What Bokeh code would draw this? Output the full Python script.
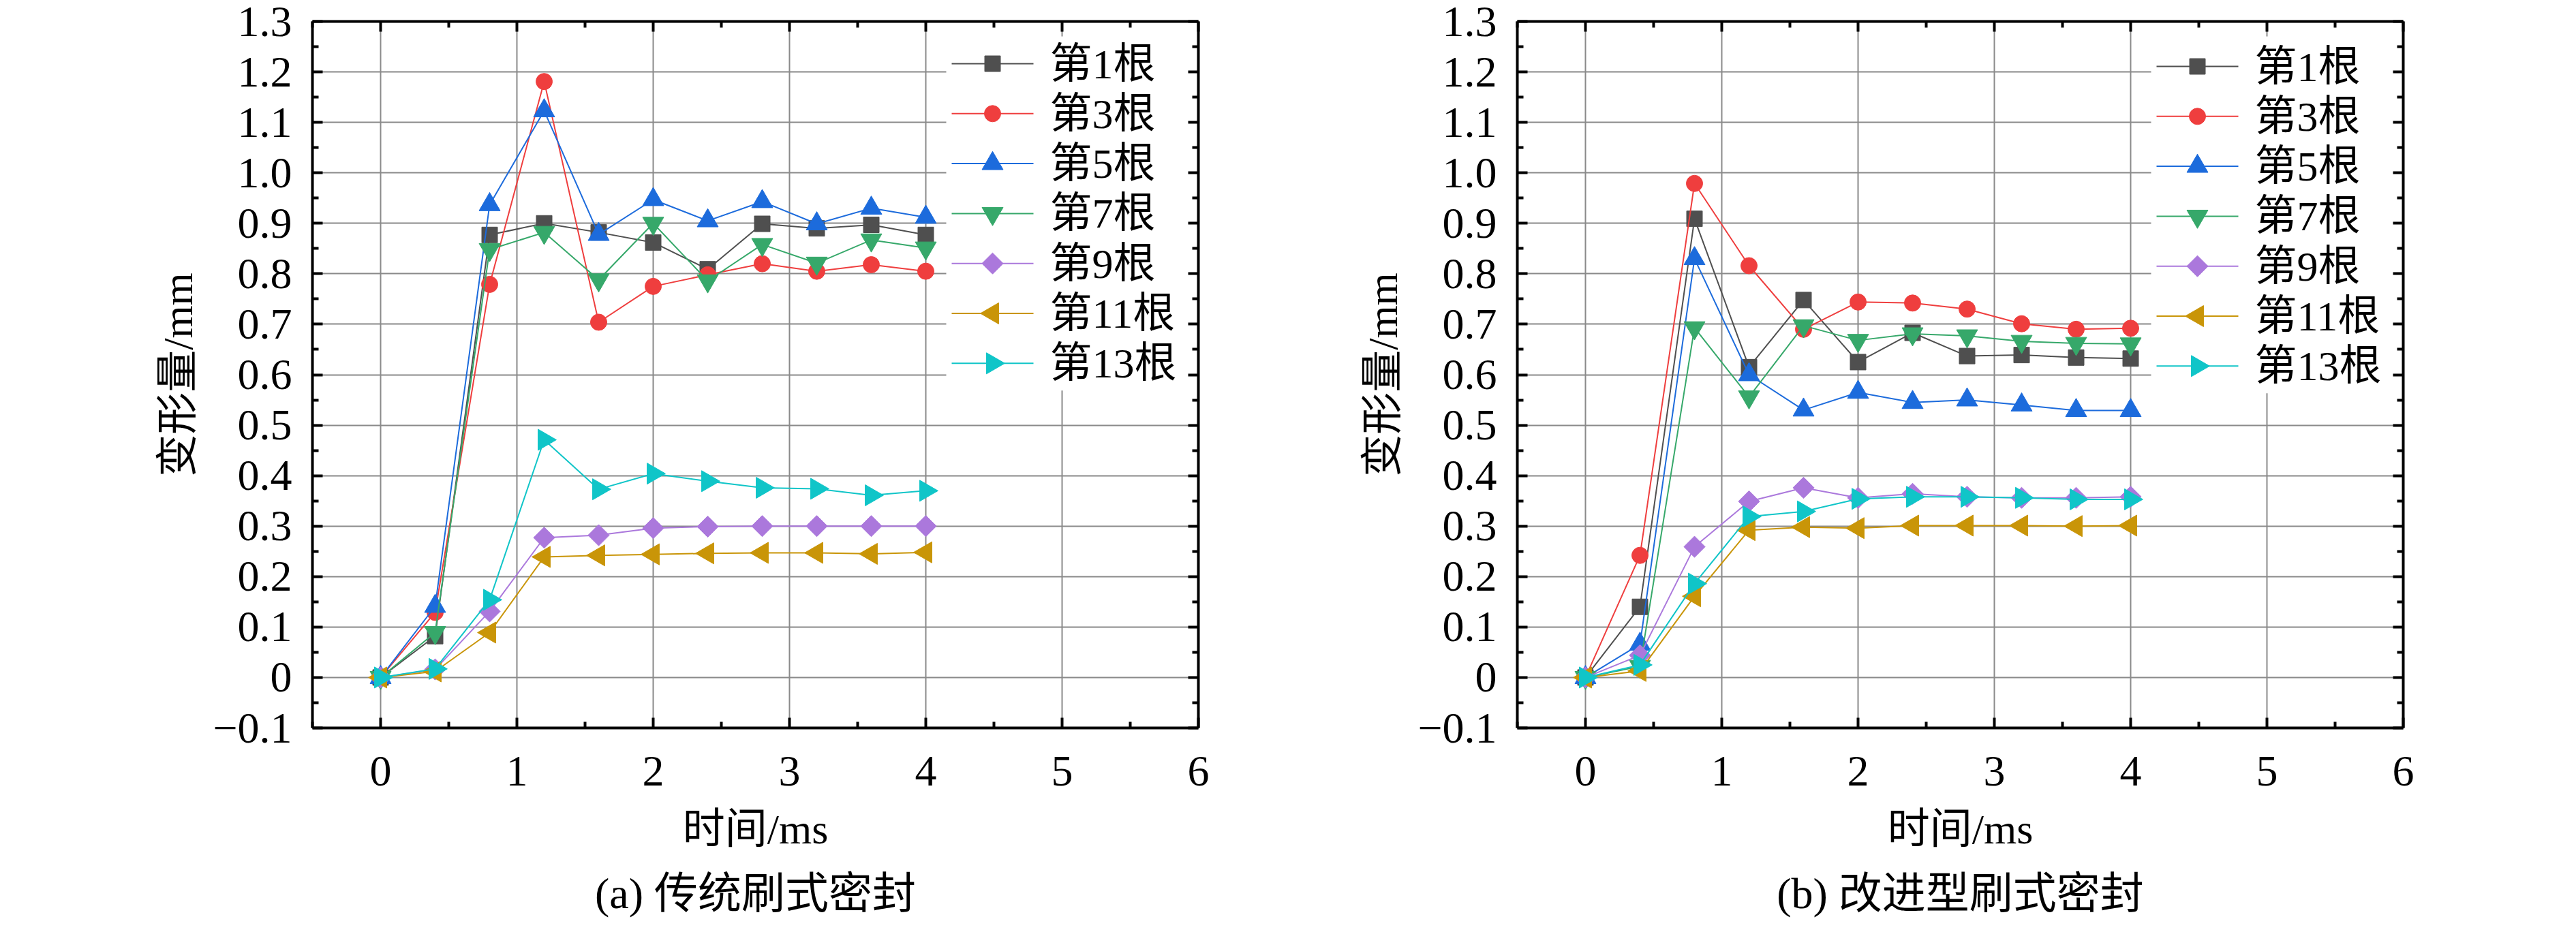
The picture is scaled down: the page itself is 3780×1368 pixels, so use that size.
import math
from bokeh.plotting import figure
from bokeh.models import FixedTicker, LinearAxis, Title, Range1d, CustomJSTickFormatter
from bokeh.core.properties import value
from bokeh.layouts import row
from bokeh.embed import file_html
from bokeh.resources import INLINE

# ---------------- data ----------------
time_ms = [0, 0.4, 0.8, 1.2, 1.6, 2.0, 2.4, 2.8, 3.2, 3.6, 4.0]
series_names = ["第1根", "第3根", "第5根", "第7根", "第9根", "第11根", "第13根"]

# (a) 传统刷式密封
a_1 = [0, 0.082, 0.877, 0.900, 0.882, 0.862, 0.809, 0.899, 0.890, 0.897, 0.877]
a_3 = [0, 0.129, 0.779, 1.181, 0.704, 0.775, 0.798, 0.820, 0.805, 0.818, 0.805]
a_5 = [0, 0.141, 0.937, 1.123, 0.878, 0.947, 0.905, 0.943, 0.899, 0.930, 0.912]
a_7 = [0, 0.089, 0.848, 0.882, 0.788, 0.900, 0.786, 0.858, 0.821, 0.867, 0.851]
a_9 = [0, 0.016, 0.131, 0.277, 0.282, 0.296, 0.299, 0.300, 0.300, 0.300, 0.300]
a_11 = [0, 0.012, 0.089, 0.239, 0.242, 0.244, 0.246, 0.247, 0.247, 0.245, 0.248]
a_13 = [0, 0.017, 0.154, 0.471, 0.373, 0.404, 0.389, 0.376, 0.374, 0.361, 0.370]

# (b) 改进型刷式密封
b_1 = [0, 0.140, 0.909, 0.615, 0.748, 0.625, 0.683, 0.637, 0.639, 0.634, 0.632]
b_3 = [0, 0.242, 0.979, 0.816, 0.690, 0.744, 0.742, 0.730, 0.701, 0.690, 0.692]
b_5 = [0, 0.066, 0.830, 0.600, 0.530, 0.565, 0.545, 0.550, 0.540, 0.529, 0.529]
b_7 = [0, 0.022, 0.693, 0.556, 0.697, 0.668, 0.681, 0.677, 0.666, 0.662, 0.661]
b_9 = [0, 0.044, 0.259, 0.349, 0.376, 0.356, 0.364, 0.358, 0.356, 0.356, 0.358]
b_11 = [0, 0.013, 0.161, 0.292, 0.298, 0.296, 0.301, 0.301, 0.301, 0.300, 0.301]
b_13 = [0, 0.025, 0.186, 0.319, 0.329, 0.354, 0.358, 0.358, 0.356, 0.353, 0.353]

x_ticks = [0, 1, 2, 3, 4, 5, 6]
x_minor = [-0.5, 0.5, 1.5, 2.5, 3.5, 4.5, 5.5]
y_ticks = [-0.1, 0.0, 0.1, 0.2, 0.3, 0.4, 0.5, 0.6, 0.7, 0.8, 0.9, 1.0, 1.1, 1.2, 1.3]
y_tick_labels = ["\u22120.1", "0", "0.1", "0.2", "0.3", "0.4", "0.5", "0.6", "0.7",
                 "0.8", "0.9", "1.0", "1.1", "1.2", "1.3"]
y_minor = [-0.05, 0.05, 0.15, 0.25, 0.35, 0.45, 0.55, 0.65, 0.75, 0.85, 0.95,
           1.05, 1.15, 1.25]

x_label = "时间/ms"
y_label = "变形量/mm"
title_a = "(a) 传统刷式密封"
title_b = "(b) 改进型刷式密封"

# ---------------- styles ----------------
colors = ["#4f4f4f", "#ef3e3e", "#1c6bdc", "#36a86a", "#ab78dc", "#c99508", "#10c5c8"]
markers = ["square", "circle", "triangle", "inverted_triangle", "square", "triangle", "triangle"]
msizes = [23, 24, 31, 31, 22, 31, 31]
angles = [0, 0, 0, 0, math.pi / 4, math.pi / 2, -math.pi / 2]

FONT = "'Liberation Serif', 'Noto Sans CJK SC'"
TICK_FS = "64px"
LABEL_FS = "62px"
FRAME_W, FRAME_H = 1300, 1037
FIG_H = 1360


def style_axis(ax, show_labels):
    ax.axis_line_width = 4
    ax.axis_line_color = "black"
    ax.major_tick_in = 15
    ax.major_tick_out = 0
    ax.minor_tick_in = 9
    ax.minor_tick_out = 0
    ax.major_tick_line_width = 4
    ax.minor_tick_line_width = 4
    ax.major_tick_line_color = "black"
    ax.minor_tick_line_color = "black"
    ax.major_label_text_font = FONT
    ax.major_label_text_font_size = TICK_FS
    ax.major_label_text_color = "black"
    ax.axis_label_text_font = FONT
    ax.axis_label_text_font_size = LABEL_FS
    ax.axis_label_text_font_style = "normal"
    ax.axis_label_text_color = "black"
    if not show_labels:
        ax.formatter = CustomJSTickFormatter(code="return ''")
        ax.major_label_standoff = 0


def make_fig(data, border_left, border_right, border_top, title_text, legend_top_gap):
    p = figure(frame_width=FRAME_W, frame_height=FRAME_H,
               x_range=Range1d(-0.5, 6), y_range=Range1d(-0.1, 1.3),
               output_backend="svg", toolbar_location=None,
               min_border_left=border_left, min_border_right=border_right,
               min_border_top=border_top, min_border_bottom=FIG_H - FRAME_H - border_top,
               background_fill_color="white", border_fill_color="white")
    p.outline_line_color = None
    # pixel-unit ranges used only for placing the legend block
    p.extra_x_ranges = {"px": Range1d(0, FRAME_W)}
    p.extra_y_ranges = {"px": Range1d(0, FRAME_H)}

    p.xaxis.ticker = FixedTicker(ticks=x_ticks, minor_ticks=x_minor)
    p.yaxis.ticker = FixedTicker(ticks=y_ticks, minor_ticks=y_minor)
    p.xgrid.ticker = FixedTicker(ticks=x_ticks)
    p.ygrid.ticker = FixedTicker(ticks=y_ticks)
    for g in (p.xgrid, p.ygrid):
        g.grid_line_color = "#8a8a8a"
        g.grid_line_width = 2

    p.yaxis.major_label_overrides = {t: l for t, l in zip(y_ticks, y_tick_labels)}
    p.xaxis.axis_label = x_label
    p.yaxis.axis_label = y_label
    for ax in p.xaxis:
        style_axis(ax, True)
        ax.major_label_standoff = 42
        ax.axis_label_standoff = 27
    for ax in p.yaxis:
        style_axis(ax, True)
        ax.major_label_standoff = 30
        ax.axis_label_standoff = 14

    top = LinearAxis(ticker=FixedTicker(ticks=x_ticks, minor_ticks=x_minor))
    style_axis(top, False)
    p.add_layout(top, "above")
    right = LinearAxis(ticker=FixedTicker(ticks=y_ticks, minor_ticks=y_minor))
    style_axis(right, False)
    p.add_layout(right, "right")

    # legend block (white box hiding the grid, as in the reference)
    n = len(series_names)
    step = 73.3
    row_y = [FRAME_H - legend_top_gap - step * i for i in range(n)]
    box_bottom = row_y[-1] - 40
    p.quad(left=[930], right=[FRAME_W], bottom=[box_bottom], top=[FRAME_H - 22],
           fill_color="white", line_color=None, x_range_name="px", y_range_name="px")

    for i, (ys, c, m, s, a) in enumerate(zip(data, colors, markers, msizes, angles)):
        p.line(time_ms, ys, line_color=c, line_width=2)
        p.scatter(time_ms, ys, marker=m, size=s, angle=a,
                  fill_color=c, line_color=c, line_width=1)
        # legend sample
        p.line([938, 1058], [row_y[i], row_y[i]], line_color=c, line_width=2,
               x_range_name="px", y_range_name="px")
        p.scatter([998], [row_y[i]], marker=m, size=s, angle=a,
                  fill_color=c, line_color=c, line_width=1,
                  x_range_name="px", y_range_name="px")

    p.text(x=[1082] * n, y=row_y, text=series_names, text_font=value(FONT),
           text_font_size=value(LABEL_FS), text_baseline="middle", text_align="left",
           text_color="black", x_range_name="px", y_range_name="px")

    # sub-figure caption below the x-axis title
    cap = Title(text=title_text, align="center", text_font=FONT,
                text_font_size="64px", text_font_style="normal",
                text_color="black", standoff=40)
    p.add_layout(cap, "below")
    return p


# the row is pulled up over the 8px body margin so the top tick labels have room
p1 = make_fig([a_1, a_3, a_5, a_7, a_9, a_11, a_13], 458, 124, 39, title_a, 62)
p2 = make_fig([b_1, b_3, b_5, b_7, b_9, b_11, b_13], 344, 238, 36, title_b, 66)

layout = row(p1, p2, margin=(-8, 0, 0, 0))
open("out.html", "w").write(file_html(layout, INLINE))
